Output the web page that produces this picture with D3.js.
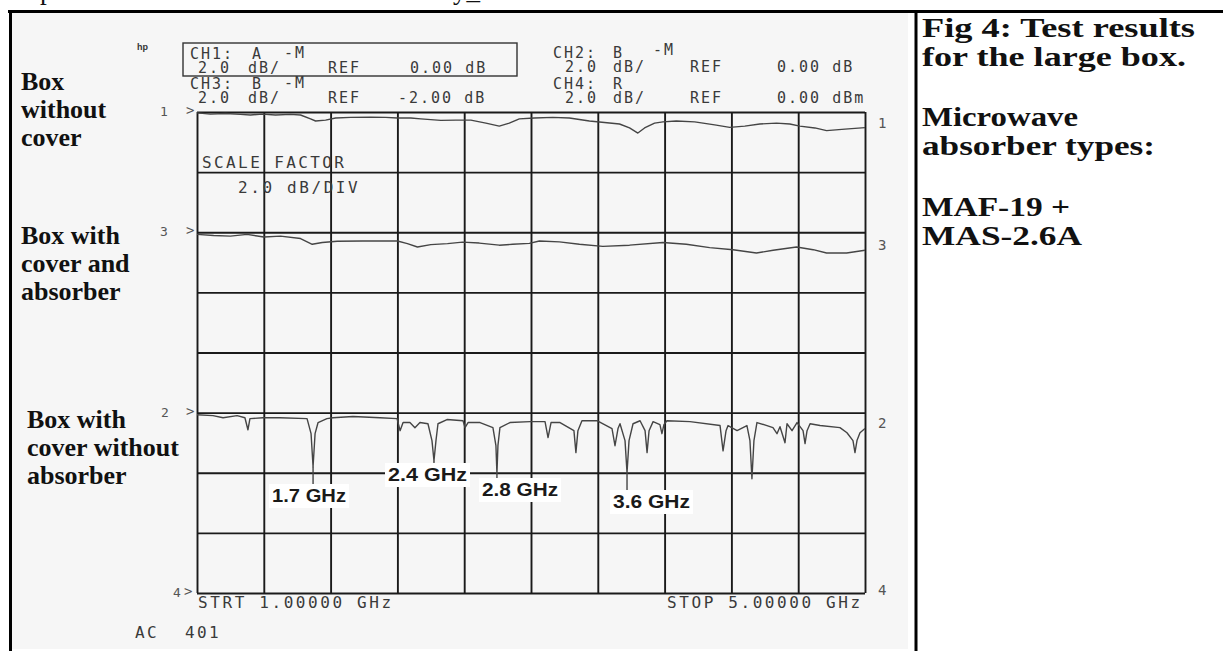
<!DOCTYPE html>
<html>
<head>
<meta charset="utf-8">
<script src="https://cdn.jsdelivr.net/npm/d3@7"></script>
<style>
  html, body { margin: 0; padding: 0; background: #ffffff; }
  svg { display: block; }
</style>
</head>
<body>
<div id="chart"></div>
<script>
// ---------------- DATA ----------------
const startGHz = 1.0, stopGHz = 5.0;
const dbPerDiv = 2.0;
const freqTicks = [1.0, 1.4, 1.8, 2.2, 2.6, 3.0, 3.4, 3.8, 4.2, 4.6, 5.0];
const divTicks = [0, 1, 2, 3, 4, 5, 6, 7, 8];

// Channel 1: box without cover (dB relative to reference line 1)
const trace1Freq = [1.00,1.08,1.17,1.26,1.32,1.39,1.47,1.56,1.62,1.68,1.71,1.77,1.83,1.92,2.04,2.13,2.20,2.28,2.34,2.46,2.55,2.64,2.73,2.81,2.87,2.93,3.02,3.13,3.23,3.35,3.44,3.53,3.59,3.64,3.68,3.74,3.79,3.87,3.98,4.10,4.19,4.28,4.37,4.47,4.55,4.61,4.70,4.77,4.88,5.00];
const trace1Db   = [-0.03,-0.07,-0.05,-0.08,-0.10,-0.07,-0.10,-0.08,-0.10,-0.23,-0.30,-0.27,-0.20,-0.18,-0.17,-0.18,-0.20,-0.20,-0.23,-0.28,-0.27,-0.27,-0.37,-0.47,-0.37,-0.23,-0.20,-0.18,-0.20,-0.30,-0.35,-0.40,-0.53,-0.70,-0.53,-0.37,-0.33,-0.30,-0.33,-0.43,-0.51,-0.47,-0.40,-0.37,-0.40,-0.47,-0.53,-0.62,-0.57,-0.52];

// Channel 3: box with cover and absorber
const trace3Freq = [1.00,1.10,1.20,1.30,1.40,1.50,1.62,1.69,1.75,1.84,1.99,2.20,2.26,2.32,2.40,2.50,2.59,2.69,2.81,2.89,2.99,3.05,3.17,3.29,3.43,3.59,3.79,3.93,4.07,4.21,4.35,4.45,4.59,4.69,4.77,4.89,5.00];
const trace3Db   = [-0.07,-0.11,-0.13,-0.07,-0.16,-0.13,-0.21,-0.40,-0.34,-0.30,-0.29,-0.29,-0.38,-0.49,-0.41,-0.38,-0.33,-0.36,-0.43,-0.40,-0.37,-0.29,-0.32,-0.40,-0.47,-0.43,-0.34,-0.40,-0.51,-0.58,-0.69,-0.60,-0.49,-0.58,-0.69,-0.69,-0.60];

// Channel 2: box with cover without absorber (resonances)
const trace2Freq = [1.000,1.096,1.156,1.240,1.287,1.305,1.317,1.395,1.497,1.659,1.683,1.695,1.707,1.725,1.778,1.814,1.934,2.096,2.198,2.216,2.234,2.275,2.305,2.335,2.383,2.407,2.419,2.431,2.443,2.497,2.593,2.605,2.623,2.695,2.772,2.790,2.796,2.802,2.814,2.874,2.994,3.084,3.102,3.120,3.174,3.257,3.269,3.281,3.305,3.395,3.485,3.503,3.521,3.533,3.563,3.575,3.587,3.611,3.653,3.683,3.695,3.707,3.731,3.772,3.784,3.796,3.814,3.952,4.132,4.150,4.168,4.180,4.234,4.293,4.311,4.323,4.335,4.353,4.413,4.449,4.473,4.491,4.521,4.533,4.563,4.593,4.629,4.641,4.653,4.671,4.731,4.850,4.892,4.928,4.940,4.952,4.970,5.000];
const trace2Db   = [-0.07,-0.10,-0.17,-0.10,-0.17,-0.57,-0.20,-0.17,-0.17,-0.20,-0.70,-1.80,-0.70,-0.33,-0.20,-0.17,-0.13,-0.17,-0.20,-0.60,-0.33,-0.33,-0.50,-0.33,-0.37,-0.93,-1.60,-0.93,-0.37,-0.23,-0.27,-0.50,-0.33,-0.33,-0.50,-1.10,-2.03,-1.10,-0.50,-0.33,-0.30,-0.30,-0.83,-0.33,-0.33,-0.60,-1.33,-0.60,-0.27,-0.27,-0.53,-1.10,-0.53,-0.37,-0.93,-2.00,-0.93,-0.37,-0.27,-0.60,-1.33,-0.60,-0.30,-0.40,-0.70,-0.40,-0.27,-0.30,-0.43,-1.27,-0.60,-0.43,-0.60,-0.43,-0.93,-2.20,-0.93,-0.33,-0.43,-0.50,-0.70,-0.47,-1.00,-0.37,-0.60,-0.33,-0.60,-1.03,-0.60,-0.37,-0.43,-0.50,-0.67,-0.93,-1.33,-0.93,-0.67,-0.53];

// Reference line positions (in divisions from the top) for channels 1, 3, 2, 4
const channelNames = ["1", "3", "2", "4"];
const channelRefDiv = [0, 2, 5, 8];

// Resonance annotations
const annoLabels = ["1.7 GHz", "2.4 GHz", "2.8 GHz", "3.6 GHz"];
const annoFreq   = [1.695, 2.419, 2.796, 3.575];
const annoDb     = [-1.80, -1.60, -2.03, -2.00];

// Text content
const seriesLabels = [["Box", "without", "cover"], ["Box with", "cover and", "absorber"], ["Box with", "cover without", "absorber"]];
const captionLines = ["Fig 4: Test results", "for the large box.", "Microwave", "absorber types:", "MAF-19 +", "MAS-2.6A"];

// ---------------- LAYOUT ----------------
const W = 1223, H = 651;
const svg = d3.select("#chart").append("svg").attr("width", W).attr("height", H);

const x = d3.scaleLinear().domain([startGHz, stopGHz]).range([197, 865]);
const yDiv = d3.scaleLinear().domain([0, 8]).range([112, 593]);
const gridH = yDiv(8) - yDiv(0);

const MONO = "'DejaVu Sans Mono', 'Liberation Mono', monospace";
const SERIF = "'Liberation Serif', 'Times New Roman', serif";
const SANS = "'Liberation Sans', Arial, sans-serif";
const monoCol = "#3a3a3a";

// scanned area background
svg.append("rect").attr("x", 12).attr("y", 13).attr("width", 896).attr("height", 636).attr("fill", "#f6f6f6");

// frame
svg.append("line").attr("x1", 8).attr("x2", W).attr("y1", 11.5).attr("y2", 11.5).attr("stroke", "#000").attr("stroke-width", 3);
svg.append("line").attr("x1", 10.5).attr("x2", 10.5).attr("y1", 10).attr("y2", H).attr("stroke", "#000").attr("stroke-width", 3);
svg.append("line").attr("x1", 916).attr("x2", 916).attr("y1", 10).attr("y2", H).attr("stroke", "#000").attr("stroke-width", 3);

// cut-off text line from above the frame
svg.append("text").attr("x", 40).attr("y", -1).attr("font-family", SERIF).attr("font-size", 27).attr("fill", "#111").text("p");
svg.append("text").attr("x", 453).attr("y", -1).attr("font-family", SERIF).attr("font-size", 27).attr("fill", "#111").text("y_");

// grid using d3 axes
const gridG = svg.append("g").attr("class", "grid");
const vAxis = d3.axisTop(x).tickValues(freqTicks).tickSize(-gridH).tickFormat("");
gridG.append("g").attr("transform", `translate(0,${yDiv(0)})`).call(vAxis)
  .call(g => g.select(".domain").remove())
  .call(g => g.selectAll("line").attr("stroke", "#1a1a1a").attr("stroke-width", 1.9));
const hAxis = d3.axisLeft(yDiv).tickValues(divTicks).tickSize(-(x(stopGHz) - x(startGHz))).tickFormat("");
gridG.append("g").attr("transform", `translate(${x(startGHz)},0)`).call(hAxis)
  .call(g => g.select(".domain").remove())
  .call(g => g.selectAll("line").attr("stroke", "#1a1a1a").attr("stroke-width", 1.9));

// traces
function traceY(refDiv) { return d => yDiv(refDiv - d[1] / dbPerDiv); }
const traces = [
  { f: trace1Freq, v: trace1Db, ref: channelRefDiv[0] },
  { f: trace3Freq, v: trace3Db, ref: channelRefDiv[1] },
  { f: trace2Freq, v: trace2Db, ref: channelRefDiv[2] }
];
traces.forEach(t => {
  const pts = t.f.map((f, i) => [f, t.v[i]]);
  const line = d3.line().x(d => x(d[0])).y(traceY(t.ref)).curve(d3.curveLinear);
  svg.append("path").datum(pts).attr("d", line).attr("fill", "none")
    .attr("stroke", "#454545").attr("stroke-width", 1.4).attr("stroke-linejoin", "round");
});

// channel reference markers
const markLeftX = [160, 160, 161, 173];
channelNames.forEach((n, i) => {
  const yy = yDiv(channelRefDiv[i]);
  svg.append("text").attr("x", markLeftX[i]).attr("y", yy + 4).attr("font-family", MONO).attr("font-size", 13).attr("fill", "#555").text(n);
  svg.append("text").attr("x", i === 3 ? 184 : 186).attr("y", yy + 3).attr("font-family", MONO).attr("font-size", 14).attr("fill", "#555").text(">");
  const rightOff = [11, 13, 10, -3][i];
  svg.append("text").attr("x", 878).attr("y", yy + rightOff + 5).attr("font-family", MONO).attr("font-size", 14).attr("fill", "#555").text(n);
});

// header (analyzer annotation)
function mono(txt, xx, yy, size) {
  return svg.append("text").attr("x", xx).attr("y", yy).attr("font-family", MONO)
    .attr("font-size", size || 15).attr("letter-spacing", 2).attr("fill", monoCol).text(txt);
}
svg.append("text").attr("x", 137).attr("y", 50).attr("font-family", SANS).attr("font-weight", "bold")
  .attr("font-size", 9).attr("fill", "#333").text("hp");
svg.append("rect").attr("x", 183).attr("y", 43).attr("width", 334).attr("height", 33)
  .attr("fill", "none").attr("stroke", "#333").attr("stroke-width", 1.4);
const hdr = [
  ["CH1:", 190, 59], ["A", 252, 59], ["-M", 284, 58],
  ["2.0", 198, 73], ["dB/", 248, 73], ["REF", 328, 73], ["0.00 dB", 410, 73],
  ["CH3:", 190, 89], ["B", 252, 89], ["-M", 284, 88],
  ["2.0", 198, 103], ["dB/", 248, 103], ["REF", 328, 103], ["-2.00 dB", 398, 103],
  ["CH2:", 553, 58], ["B", 613, 58], ["-M", 653, 55],
  ["2.0", 565, 72], ["dB/", 613, 72], ["REF", 690, 72], ["0.00 dB", 777, 72],
  ["CH4:", 553, 89], ["R", 613, 89],
  ["2.0", 565, 103], ["dB/", 613, 103], ["REF", 690, 103], ["0.00 dBm", 777, 103]
];
hdr.forEach(h => mono(h[0], h[1], h[2]));

mono("SCALE FACTOR", 202, 168, 16).attr("letter-spacing", 2.4);
mono("2.0 dB/DIV", 238, 193, 16).attr("letter-spacing", 2.6);
mono(`STRT ${startGHz.toFixed(5)} GHz`, 198, 608, 16).attr("letter-spacing", 2.6);
mono(`STOP ${stopGHz.toFixed(5)} GHz`, 667, 608, 16).attr("letter-spacing", 2.6);
mono("AC", 135, 638, 16).attr("letter-spacing", 2.4);
mono("401", 185, 638, 16).attr("letter-spacing", 2.4);

// resonance annotations
const annoLayout = [[272, 502], [388, 481], [482, 496], [613, 508]];
const annoWidth = [74, 79, 76, 77];
annoLabels.forEach((lab, i) => {
  const [lx, ly] = annoLayout[i];
  const g = svg.append("g");
  const bg = g.append("rect").attr("fill", "#ffffff");
  const t = g.append("text").attr("x", lx).attr("y", ly).attr("font-family", SANS).attr("font-weight", "bold")
    .attr("font-size", 19).attr("fill", "#1a1a1a")
    .attr("textLength", annoWidth[i]).attr("lengthAdjust", "spacingAndGlyphs").text(lab);
  const bb = t.node().getBBox();
  bg.attr("x", bb.x - 3).attr("y", bb.y - 1).attr("width", bb.width + 6).attr("height", bb.height + 3);
  const xd = x(annoFreq[i]);
  const yd = yDiv(channelRefDiv[2] - annoDb[i] / dbPerDiv);
  svg.append("line").attr("x1", xd).attr("x2", xd).attr("y1", yd).attr("y2", bb.y - 1)
    .attr("stroke", "#444").attr("stroke-width", 1.4);
});

// series labels on the left
const seriesLayout = [[21, 90], [21, 244], [27, 428]];
seriesLabels.forEach((lines, i) => {
  lines.forEach((ln, j) => {
    svg.append("text").attr("x", seriesLayout[i][0]).attr("y", seriesLayout[i][1] + j * 28)
      .attr("font-family", SERIF).attr("font-weight", "bold").attr("font-size", 26).attr("fill", "#111").text(ln);
  });
});

// caption column on the right
const capY = [37, 66, 126, 155, 216, 245];
const capW = [273, 264, 156, 233, 148, 160];
captionLines.forEach((ln, i) => {
  svg.append("text").attr("x", 922).attr("y", capY[i]).attr("font-family", SERIF).attr("font-weight", "bold")
    .attr("font-size", 28).attr("fill", "#111").attr("textLength", capW[i]).attr("lengthAdjust", "spacingAndGlyphs").text(ln);
});
</script>
</body>
</html>
